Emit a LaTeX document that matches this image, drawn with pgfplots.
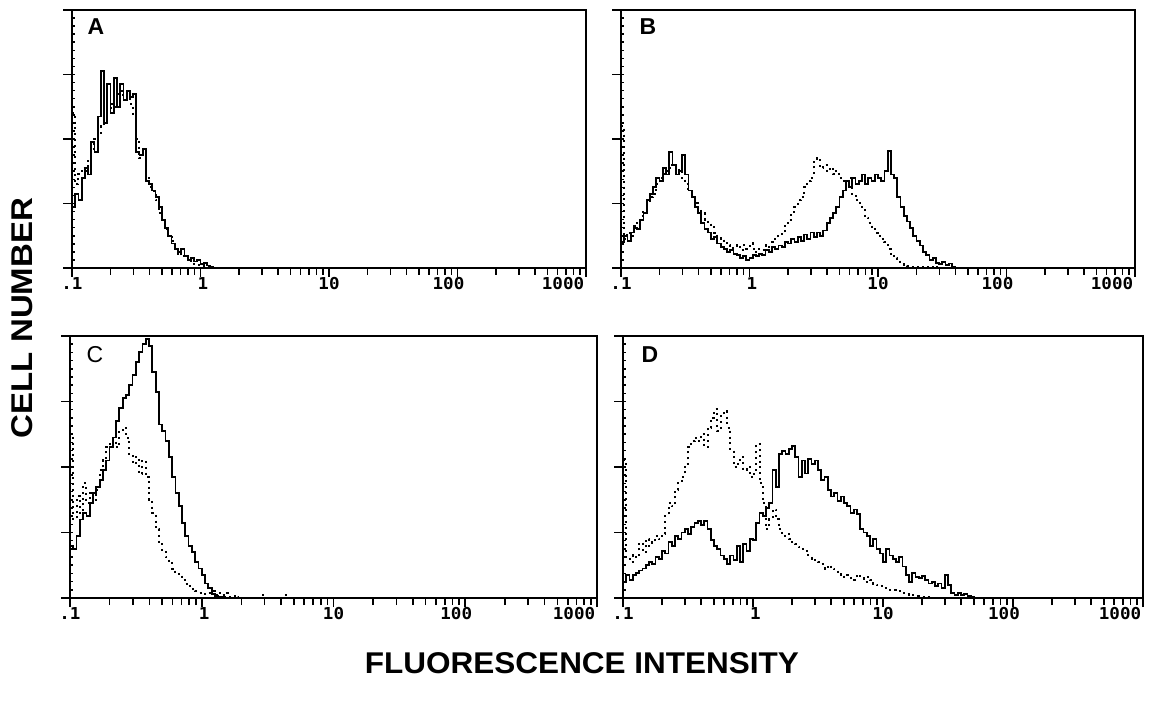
\documentclass[border=0pt]{standalone}
\usepackage{fontspec}
\setmainfont{Liberation Sans}
\newfontfamily\tickfont{DejaVu Sans Mono}
\usepackage{graphicx}
\usepackage{pgfplots}
\pgfplotsset{compat=1.18}
\usepackage{pgfplotstable}

\newcommand\tl[2]{\makebox[0pt]{\hspace*{#1}\scalebox{1.07}[1]{\tickfont\bfseries\fontsize{8.2}{8.2}\selectfont #2}}}

\pgfplotstableread{
x s d
0.1 0.95 2.40
0.1059 1.15 1.30
0.1122 1.05 1.45
0.1189 1.40 1.55
0.1259 1.55 1.50
0.1334 1.45 1.70
0.1413 1.95 1.85
0.1496 1.80 2.00
0.1585 2.35 2.05
0.1679 3.05 2.20
0.1778 2.25 2.35
0.1884 2.85 2.45
0.1995 2.40 2.55
0.2113 2.95 2.50
0.2239 2.50 2.70
0.2371 2.85 2.75
0.2512 2.60 2.65
0.2661 2.75 2.70
0.2818 2.65 2.55
0.2985 2.70 2.35
0.3162 1.80 2.00
0.3350 1.75 1.70
0.3548 1.85 1.75
0.3758 1.35 1.40
0.3981 1.30 1.25
0.4217 1.20 1.20
0.4467 1.10 1.05
0.4732 0.95 0.85
0.5012 0.75 0.75
0.5309 0.62 0.60
0.5623 0.50 0.50
0.5957 0.38 0.42
0.6310 0.30 0.30
0.6683 0.25 0.20
0.7079 0.30 0.22
0.7499 0.18 0.15
0.7943 0.12 0.12
0.8414 0.16 0.08
0.8913 0.10 0.06
0.9441 0.12 0.05
1.000 0.06 0.03
1.059 0.08 0.02
1.122 0.04 0.02
1.189 0.01 0.01
1.259 0 0
1000 0 0
}\tabA

\pgfplotstableread{
x s d
0.1 0.40 2.20
0.1059 0.50 0.45
0.1122 0.42 0.55
0.1189 0.55 0.50
0.1259 0.62 0.65
0.1334 0.60 0.75
0.1413 0.75 0.80
0.1496 0.85 0.90
0.1585 1.05 1.00
0.1679 1.15 1.10
0.1778 1.25 1.15
0.1884 1.40 1.30
0.1995 1.35 1.40
0.2113 1.55 1.45
0.2239 1.45 1.50
0.2371 1.80 1.55
0.2512 1.60 1.60
0.2661 1.45 1.55
0.2818 1.50 1.50
0.2985 1.75 1.40
0.3162 1.45 1.30
0.3350 1.20 1.20
0.3548 1.10 1.10
0.3758 0.95 1.00
0.3981 0.85 0.90
0.4217 0.70 0.85
0.4467 0.60 0.75
0.4732 0.55 0.72
0.5012 0.45 0.65
0.5309 0.48 0.55
0.5623 0.38 0.50
0.5957 0.32 0.45
0.6310 0.30 0.40
0.6683 0.25 0.35
0.7079 0.28 0.32
0.7499 0.22 0.30
0.7943 0.20 0.35
0.8414 0.15 0.28
0.8913 0.18 0.35
0.9441 0.12 0.30
1.000 0.15 0.38
1.059 0.20 0.30
1.122 0.18 0.25
1.189 0.22 0.30
1.259 0.20 0.28
1.334 0.28 0.35
1.413 0.25 0.30
1.496 0.32 0.40
1.585 0.30 0.45
1.679 0.35 0.50
1.778 0.32 0.55
1.884 0.40 0.65
1.995 0.38 0.75
2.113 0.45 0.85
2.239 0.40 0.95
2.371 0.48 1.05
2.512 0.42 1.10
2.661 0.52 1.25
2.818 0.45 1.35
2.985 0.55 1.40
3.162 0.48 1.65
3.350 0.55 1.70
3.548 0.50 1.55
3.758 0.58 1.60
3.981 0.70 1.50
4.217 0.78 1.55
4.467 0.85 1.45
4.732 0.95 1.50
5.012 1.10 1.40
5.309 1.20 1.35
5.623 1.35 1.25
5.957 1.25 1.40
6.310 1.40 1.15
6.683 1.30 1.05
7.079 1.35 1.00
7.499 1.45 0.90
7.943 1.30 0.78
8.414 1.40 0.70
8.913 1.35 0.60
9.441 1.45 0.55
10.00 1.40 0.50
10.59 1.35 0.45
11.22 1.50 0.40
11.89 1.82 0.30
12.59 1.45 0.22
13.34 1.40 0.15
14.13 1.10 0.12
14.96 0.95 0.08
15.85 0.80 0.05
16.79 0.72 0.03
17.78 0.62 0.02
18.84 0.50 0.02
19.95 0.42 0.01
21.13 0.35 0.01
22.39 0.25 0.02
23.71 0.20 0.01
25.12 0.12 0
26.61 0.15 0.02
28.18 0.08 0.01
29.85 0.06 0
31.62 0.09 0.02
33.50 0.05 0
35.48 0.07 0
37.58 0.02 0
39.81 0 0
1000 0 0
}\tabB

\pgfplotstableread{
x s d
0.1 0.80 2.50
0.1059 0.75 1.20
0.1122 0.95 1.55
0.1189 1.20 1.30
0.1259 1.30 1.75
0.1334 1.25 1.45
0.1413 1.45 1.60
0.1496 1.60 1.50
0.1585 1.70 1.65
0.1679 1.80 1.95
0.1778 1.95 2.10
0.1884 2.10 2.30
0.1995 2.30 2.35
0.2113 2.45 2.40
0.2239 2.70 2.30
0.2371 2.90 2.55
0.2512 3.05 2.60
0.2661 3.10 2.45
0.2818 3.25 2.20
0.2985 3.40 2.05
0.3162 3.60 2.15
0.3350 3.75 1.90
0.3548 3.88 2.10
0.3758 3.95 1.85
0.3981 3.85 1.50
0.4217 3.45 1.30
0.4467 3.15 1.05
0.4732 2.65 0.85
0.5012 2.55 0.70
0.5309 2.40 0.62
0.5623 2.15 0.55
0.5957 1.85 0.45
0.6310 1.60 0.40
0.6683 1.40 0.35
0.7079 1.15 0.28
0.7499 0.95 0.22
0.7943 0.80 0.18
0.8414 0.70 0.14
0.8913 0.55 0.10
0.9441 0.45 0.08
1.000 0.35 0.08
1.059 0.22 0.06
1.122 0.15 0.08
1.189 0.06 0.10
1.259 0.03 0.05
1.334 0.02 0.08
1.413 0.01 0.04
1.496 0 0.07
1.585 0 0.02
1.679 0 0.01
1.778 0 0.03
1.884 0 0.01
1.995 0 0
2.818 0 0.05
2.985 0 0
4.217 0 0.05
4.467 0 0
1000 0 0
}\tabC

\pgfplotstableread{
x s d
0.1 0.25 2.10
0.1059 0.35 0.60
0.1122 0.28 0.55
0.1189 0.35 0.65
0.1259 0.38 0.62
0.1334 0.42 0.85
0.1413 0.45 0.70
0.1496 0.50 0.90
0.1585 0.55 0.80
0.1679 0.52 0.85
0.1778 0.62 0.95
0.1884 0.60 0.90
0.1995 0.72 0.98
0.2113 0.68 1.25
0.2239 0.85 1.45
0.2371 0.80 1.40
0.2512 0.95 1.65
0.2661 0.90 1.75
0.2818 1.00 1.85
0.2985 1.05 2.05
0.3162 0.98 2.30
0.3350 1.08 2.40
0.3548 1.15 2.45
0.3758 1.18 2.40
0.3981 1.12 2.50
0.4217 1.18 2.30
0.4467 1.05 2.60
0.4732 0.88 2.75
0.5012 0.80 2.88
0.5309 0.75 2.55
0.5623 0.65 2.80
0.5957 0.60 2.85
0.6310 0.52 2.60
0.6683 0.65 2.25
0.7079 0.58 2.00
0.7499 0.80 2.05
0.7943 0.55 2.15
0.8414 0.82 1.95
0.8913 0.72 2.00
0.9441 0.90 1.85
1.000 0.88 1.90
1.059 1.15 2.35
1.122 1.30 1.75
1.189 1.25 1.45
1.259 1.38 1.05
1.334 1.45 1.20
1.413 1.95 1.35
1.496 1.70 1.20
1.585 2.20 1.05
1.679 2.25 0.95
1.778 2.20 0.98
1.884 2.28 0.90
1.995 2.32 0.85
2.113 2.15 0.82
2.239 1.85 0.78
2.371 2.10 0.75
2.512 1.90 0.72
2.661 2.12 0.65
2.818 2.05 0.60
2.985 2.10 0.58
3.162 1.95 0.55
3.350 1.80 0.52
3.548 1.85 0.45
3.758 1.65 0.50
3.981 1.55 0.45
4.217 1.60 0.42
4.467 1.48 0.40
4.732 1.55 0.35
5.012 1.45 0.32
5.309 1.40 0.35
5.623 1.30 0.30
5.957 1.35 0.28
6.310 1.28 0.35
6.683 1.05 0.30
7.079 1.00 0.25
7.499 0.95 0.32
7.943 0.80 0.28
8.414 0.90 0.22
8.913 0.75 0.20
9.441 0.68 0.18
10.00 0.55 0.15
10.59 0.75 0.15
11.22 0.65 0.12
11.89 0.60 0.12
12.59 0.55 0.10
13.34 0.62 0.10
14.13 0.48 0.08
14.96 0.35 0.06
15.85 0.25 0.05
16.79 0.38 0.04
17.78 0.32 0.03
18.84 0.30 0.02
19.95 0.33 0.02
21.13 0.28 0.01
22.39 0.22 0.01
23.71 0.25 0
25.12 0.18 0
26.61 0.22 0
28.18 0.15 0
29.85 0.35 0
31.62 0.20 0
33.50 0.08 0
35.48 0.05 0
37.58 0.08 0
39.81 0.04 0
42.17 0.06 0
44.67 0.03 0
47.32 0.02 0
50.12 0 0
1000 0 0
}\tabD

\pgfplotsset{
  every axis/.append style={
    scale only axis, anchor=south west,
    xmin=0.1, xmax=1000, ymin=0, ymax=4,
    axis line style={line width=1pt},
    tick align=outside,
    xtick pos=left, ytick pos=left,
    xtick={0.1,1,10,100,1000},
    xticklabels={\tl{0pt}{.1},\tl{2.5pt}{1},\tl{0pt}{10},\tl{-9pt}{100},\tl{-23pt}{1000}},
    minor xtick={0.2,0.3,0.4,0.5,0.6,0.7,0.8,0.9,2,3,4,5,6,7,8,9,20,30,40,50,60,70,80,90,200,300,400,500,600,700,800,900},
    ytick={0,1,2,3,4}, yticklabels={},
    extra y ticks={0.125,0.25,...,3.875},
    extra y tick labels={},
    extra y tick style={tick align=inside, major tick length=1.6pt, tick style={line width=0.8pt}},
    major tick length=4.5pt, minor tick length=3.5pt,
    tick style={black, line width=0.8pt},
    xticklabel style={anchor=north, inner sep=0pt, yshift=0pt},
  },
}
\tikzset{
  sol/.style={const plot, black, line width=0.9pt},
  dot/.style={const plot, black, line width=1pt, dash pattern=on 1pt off 1.9pt},
  lab/.style={font=\bfseries\fontsize{11.5}{11.5}\selectfont, anchor=center},
}

\begin{document}
\begin{tikzpicture}
\useasboundingbox (0,0) rectangle (577pt,351pt);

\begin{semilogxaxis}[at={(36pt,217pt)}, width=257pt, height=129pt]
\addplot[dot] table[x=x,y=d] {\tabA};
\addplot[sol] table[x=x,y=s] {\tabA};
\node[lab] at (rel axis cs:0,1) [xshift=12pt, yshift=-8.5pt] {A};
\end{semilogxaxis}

\begin{semilogxaxis}[at={(310.5pt,217pt)}, width=257pt, height=129pt]
\addplot[dot] table[x=x,y=d] {\tabB};
\addplot[sol] table[x=x,y=s] {\tabB};
\node[lab] at (rel axis cs:0,1) [xshift=13.5pt, yshift=-8.5pt] {B};
\end{semilogxaxis}

\begin{semilogxaxis}[at={(35pt,52pt)}, width=263.5pt, height=131pt]
\addplot[dot] table[x=x,y=d] {\tabC};
\addplot[sol] table[x=x,y=s] {\tabC};
\node[font=\fontsize{11.5}{11.5}\selectfont, anchor=center] at (rel axis cs:0,1) [xshift=12.5pt, yshift=-9.5pt] {C};
\end{semilogxaxis}

\begin{semilogxaxis}[at={(311.5pt,52pt)}, width=260pt, height=131pt]
\addplot[dot] table[x=x,y=d] {\tabD};
\addplot[sol] table[x=x,y=s] {\tabD};
\node[lab] at (rel axis cs:0,1) [xshift=13.5pt, yshift=-9.5pt] {D};
\end{semilogxaxis}

\node[rotate=90, font=\bfseries\fontsize{15}{15}\selectfont] at (11pt,192pt) {\scalebox{1.1}[1]{CELL NUMBER}};
\node[font=\bfseries\fontsize{15}{15}\selectfont] at (291pt,19.5pt) {\scalebox{1.05}[1]{FLUORESCENCE INTENSITY}};
\end{tikzpicture}
\end{document}
